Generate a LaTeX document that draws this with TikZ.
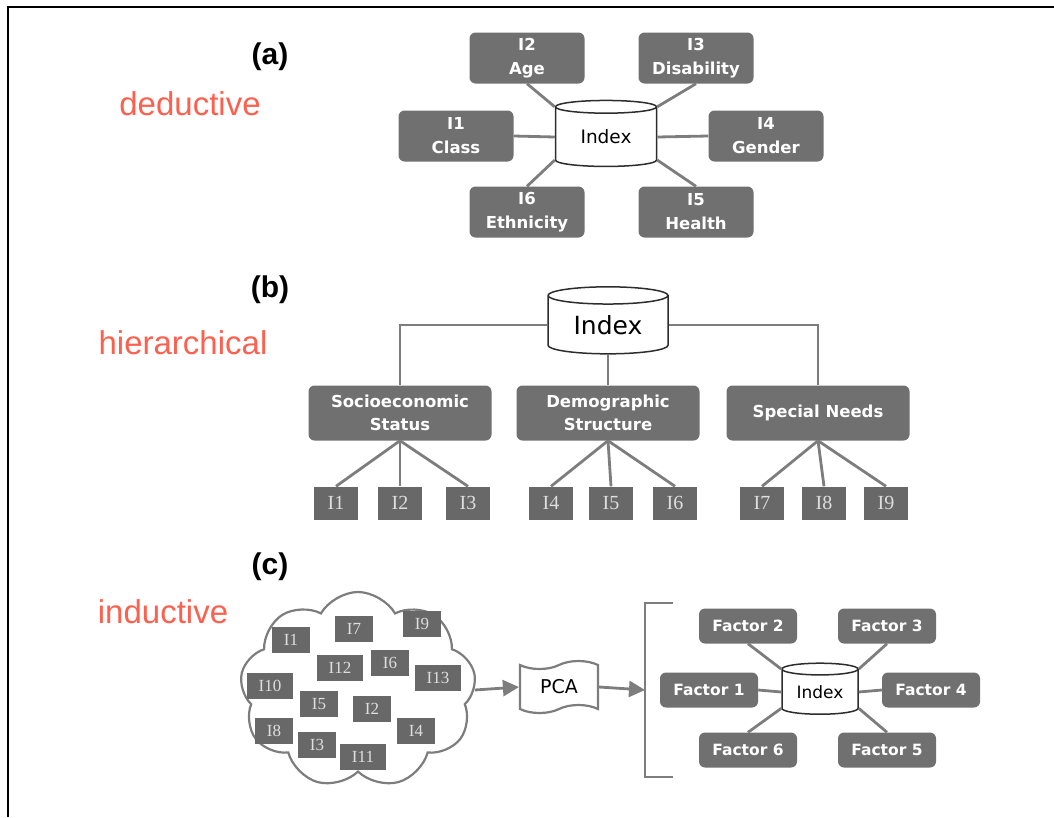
\documentclass[tikz,border=0pt]{standalone}
\usepackage{fontspec}
\setmainfont{DejaVu Sans}
\newfontfamily\labelfont{Liberation Sans}
\newfontfamily\itemfont{Liberation Serif}
\usetikzlibrary{shapes.geometric,shapes.symbols,arrows.meta}
\definecolor{boxgray}{RGB}{112,112,112}
\definecolor{itemgray}{RGB}{104,104,104}
\definecolor{itemtext}{RGB}{222,222,222}
\definecolor{linkgray}{RGB}{125,125,125}
\definecolor{hubline}{RGB}{45,45,45}
\definecolor{methodred}{RGB}{252,96,78}
\tikzset{
  link/.style={draw=linkgray, line width=2.8pt},
  flow/.style={link, -{Triangle[length=16pt,width=16pt]}},
  gbox/.style={fill=boxgray, text=white, rounded corners=6pt, align=center, inner sep=0pt},
  dimbox/.style={gbox, minimum width=115pt, minimum height=51pt, font=\bfseries\fontsize{16.5}{24}\selectfont},
  groupbox/.style={gbox, minimum width=183pt, minimum height=55pt, font=\bfseries\fontsize{16.5}{23}\selectfont},
  factorbox/.style={gbox, minimum width=98pt, minimum height=35pt, font=\bfseries\fontsize{15.5}{18}\selectfont},
  itembox/.style={fill=itemgray, text=itemtext, minimum width=44pt, minimum height=33pt, inner sep=0pt, font=\itemfont\fontsize{20}{20}\selectfont},
  cloudbox/.style={fill=itemgray, text=itemtext, minimum height=26pt, inner ysep=0pt, inner xsep=11.5pt, font=\itemfont\fontsize{17}{17}\selectfont},
  hub/.style={cylinder, shape border rotate=90, aspect=0.25, draw=hubline, line width=1.5pt, fill=white, inner sep=0pt},
  tag/.style={font=\labelfont\bfseries\fontsize{30}{30}\selectfont},
  method/.style={text=methodred, font=\labelfont\fontsize{33}{33}\selectfont},
  outline/.style={draw=linkgray, line width=2.2pt},
}
\begin{document}
\begin{tikzpicture}[x=1pt,y=-1pt]
\useasboundingbox (0,0) rectangle (1054,817);
\draw[line width=2pt] (8,817) -- (8,7) -- (1054,7);

% (a) deductive
\node[tag] (tagA) at (270,57) {(a)};
\node[method] (metA) at (190,104) {deductive};
\node[hub, minimum width=101pt, minimum height=66pt, font=\fontsize{18.5}{20}\selectfont] (hubA) at (606,137) {Index};
\foreach \i/\x/\y/\t in {1/456/136/Class, 2/527/58/Age, 3/696/58/Disability, 4/766/136/Gender, 5/696/212/Health, 6/527/212/Ethnicity}
  \node[dimbox] (a\i) at (\x,\y) {I\i\\\t};
\draw[link] (a1.east) -- (hubA.west);
\draw[link] (a4.west) -- (hubA.east);
\draw[link] (a2.south) -- (hubA.before top);
\draw[link] (a3.south) -- (hubA.after top);
\draw[link] (a6.north) -- (hubA.after bottom);
\draw[link] (a5.north) -- (hubA.before bottom);

% (b) hierarchical
\node[tag] (tagB) at (270,290) {(b)};
\node[method] (metB) at (183,343) {hierarchical};
\node[hub, minimum width=120pt, minimum height=67pt, font=\fontsize{25}{26}\selectfont] (hubB) at (608,325) {Index};
\node[groupbox] (b1) at (400,413) {Socioeconomic\\Status};
\node[groupbox] (b2) at (608,413) {Demographic\\Structure};
\node[groupbox] (b3) at (818,413) {Special Needs};
\draw[link] (hubB.west) -| (b1.north);
\draw[link] (hubB.east) -| (b3.north);
\draw[link] (hubB.south) -- (b2.north);
\foreach \i/\x in {1/336,2/400,3/468,4/551,5/611,6/675,7/762,8/824,9/886}
  \node[itembox] (s\i) at (\x,503) {I\i};
\foreach \g/\i in {1/1,1/2,1/3,2/4,2/5,2/6,3/7,3/8,3/9}
  \draw[link] (b\g.south) -- (s\i.north);

% (c) inductive
\node[tag] (tagC) at (270,567) {(c)};
\node[method] (metC) at (163,612) {inductive};
\node[cloud, cloud puffs=9, cloud puff arc=120, outline, fill=white, minimum width=236pt, minimum height=196pt] (pool) at (358,690) {};
\foreach \i/\x/\y in {1/291/640, 7/354/629, 9/422/624, 12/340/668, 6/390/663, 13/438/678, 10/270/686, 5/319/704, 2/372/709, 8/274/731, 3/317/745, 4/416/731, 11/363/757}
  \node[cloudbox] (c\i) at (\x,\y) {I\i};
\node[tape, outline, fill=white, minimum width=78pt, minimum height=52pt, tape bend height=8pt, font=\fontsize{19}{20}\selectfont] (pca) at (559,687) {PCA};
\coordinate (brk) at (645,690);
\draw[flow] (pool.east) -- (pca.west);
\draw[flow] (pca.east) -- (brk);
\draw[outline] (673,603) -- (645,603) -- (645,777) -- (673,777);
\node[hub, minimum width=76pt, minimum height=51pt, font=\fontsize{17}{18}\selectfont] (hubC) at (820,692) {Index};
\foreach \i/\x/\y in {1/709/690, 2/748/626, 3/887/626, 4/931/690, 5/887/750, 6/748/750}
  \node[factorbox] (f\i) at (\x,\y) {Factor \i};
\draw[link] (f1.east) -- (hubC.west);
\draw[link] (f4.west) -- (hubC.east);
\draw[link] (f2.south) -- (hubC.before top);
\draw[link] (f3.south) -- (hubC.after top);
\draw[link] (f6.north) -- (hubC.after bottom);
\draw[link] (f5.north) -- (hubC.before bottom);
\end{tikzpicture}
\end{document}
